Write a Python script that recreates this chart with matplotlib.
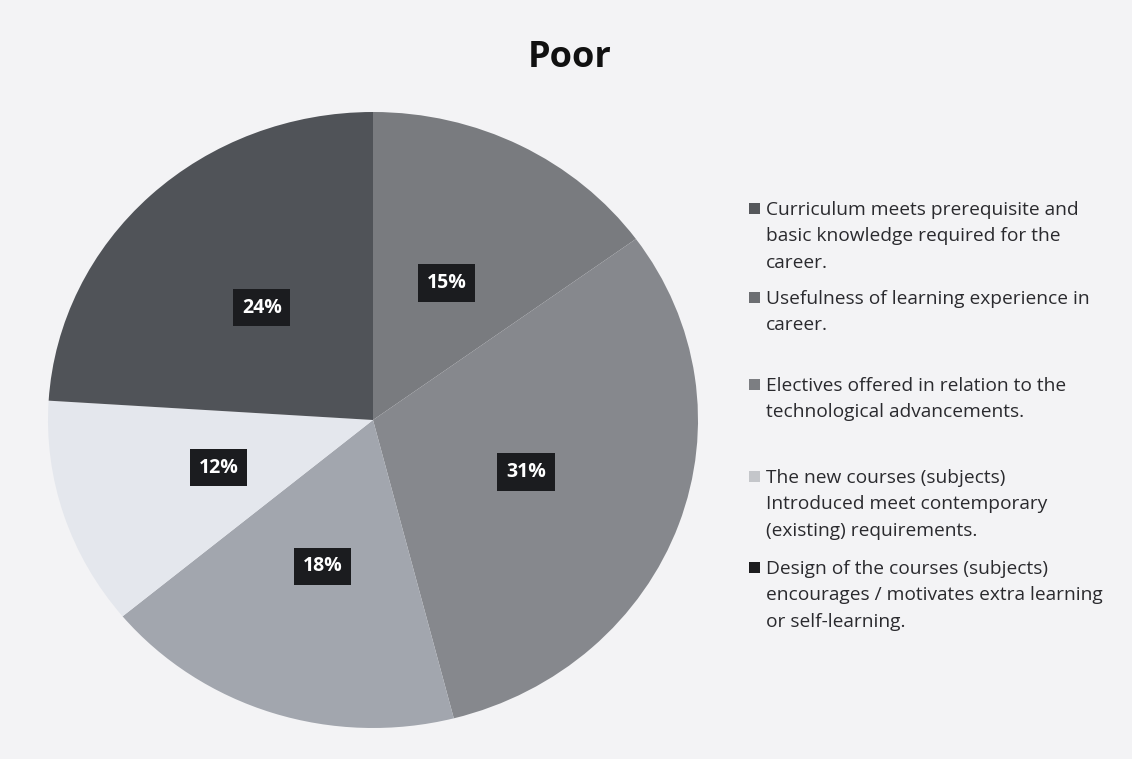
import matplotlib.pyplot as plt
import matplotlib.patches as patches

plt.rcParams['font.family'] = ['Open Sans', 'DejaVu Sans']

title = 'Poor'
categories = [
    'Curriculum meets prerequisite and\nbasic knowledge required for the\ncareer.',
    'Usefulness of learning experience in\ncareer.',
    'Electives offered in relation to the\ntechnological advancements.',
    'The new courses (subjects)\nIntroduced meet contemporary\n(existing) requirements.',
    'Design of the courses (subjects)\nencourages / motivates extra learning\nor self-learning.',
]
shares = [15, 31, 18, 12, 24]
# slice colours in pie order, legend swatches in legend order
slice_colors = ['#797b7f', '#86888d', '#a2a6ae', '#e4e7ed', '#505358']
legend_colors = ['#55575b', '#6c6e72', '#7c7e82', '#c4c6ca', '#1c1c1e']

fig = plt.figure(figsize=(11.32, 7.59), dpi=100)
fig.patch.set_facecolor('#f3f3f5')

W, H = 1132, 759
ax = fig.add_axes([48 / W, 31 / H, 650 / W, 616 / H])
wedges, texts, autotexts = ax.pie(
    shares, colors=slice_colors, startangle=90, counterclock=False,
    autopct='%d%%', pctdistance=0.5, radius=1.0,
    wedgeprops=dict(linewidth=0),
    textprops=dict(color='white', fontsize=14, fontweight='bold'))
for t in autotexts:
    t.set_bbox(dict(boxstyle='square,pad=0.45', facecolor='#1b1c1f', edgecolor='none'))
ax.set_aspect('auto')
ax.set_xlim(-1, 1)
ax.set_ylim(-1, 1)

fig.text(570 / W, 1 - 58 / H, title, ha='center', va='center',
         fontsize=26, fontweight='bold', color='#111111')

# legend drawn by hand so swatches line up with the first line of each entry
line_h = 27
gaps = [35, 60, 65, 37]
y = 208
for i, (label, col) in enumerate(zip(categories, legend_colors)):
    fig.text(766 / W, 1 - (y - 7) / H, label, ha='left', va='top', fontsize=13.8,
             color='#2a2a2e', linespacing=1.6)
    fig.patches.append(patches.Rectangle((749 / W, 1 - (y + 6) / H), 11 / W, 11 / H,
                                         transform=fig.transFigure, facecolor=col,
                                         edgecolor='none'))
    n_lines = label.count('\n') + 1
    if i < len(gaps):
        y += (n_lines - 1) * line_h + gaps[i]

fig.savefig('out.png', dpi=100, facecolor=fig.get_facecolor())
